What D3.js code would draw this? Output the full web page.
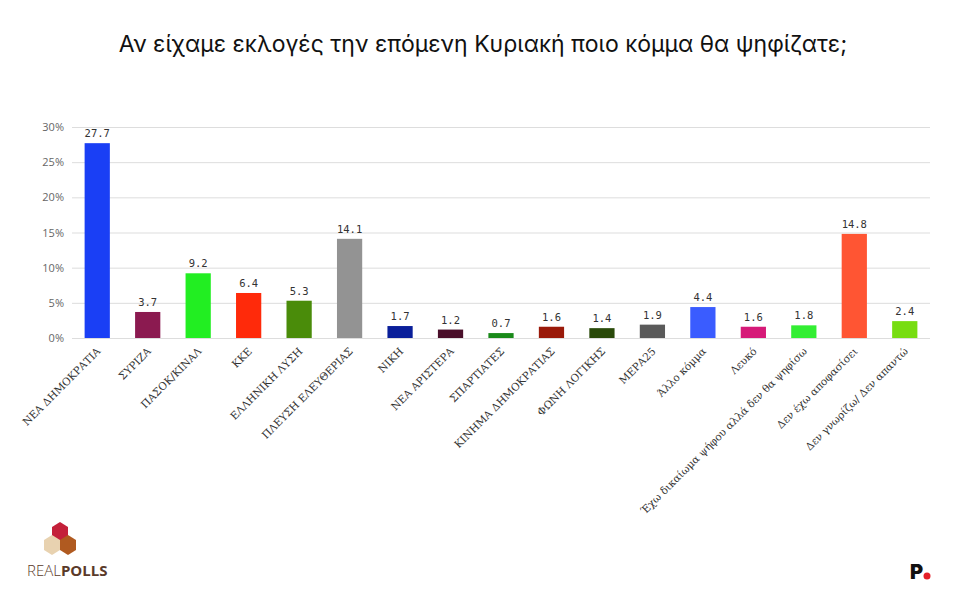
<!DOCTYPE html>
<html><head><meta charset="utf-8">
<script src="https://cdn.jsdelivr.net/npm/d3@7"></script>
<style>body{margin:0;background:#fff}</style></head>
<body><svg id="c" width="966" height="600"></svg>
<script>
const categories=["ΝΕΑ ΔΗΜΟΚΡΑΤΙΑ","ΣΥΡΙΖΑ","ΠΑΣΟΚ/ΚΙΝΑΛ","ΚΚΕ","ΕΛΛΗΝΙΚΗ ΛΥΣΗ","ΠΛΕΥΣΗ ΕΛΕΥΘΕΡΙΑΣ","ΝΙΚΗ","ΝΕΑ ΑΡΙΣΤΕΡΑ","ΣΠΑΡΤΙΑΤΕΣ","ΚΙΝΗΜΑ ΔΗΜΟΚΡΑΤΙΑΣ","ΦΩΝΗ ΛΟΓΙΚΗΣ","ΜΕΡΑ25","Άλλο κόμμα","Λευκό","Έχω δικαίωμα ψήφου αλλά δεν θα ψηφίσω","Δεν έχω αποφασίσει","Δεν γνωρίζω/ Δεν απαντώ"];
const values=[27.7,3.7,9.2,6.4,5.3,14.1,1.7,1.2,0.7,1.6,1.4,1.9,4.4,1.6,1.8,14.8,2.4];
const colors=["#1a3ff5","#8b1a50","#22ee22","#ff2a0a","#4a8c0a","#939393","#0a1f9a","#4a0f2a","#1a8a1a","#9a1a0a","#2a4a0a","#5a5a5a","#3a5cff","#d61a78","#33ee33","#ff5533","#77dd11"];
const yTicks=[0,5,10,15,20,25,30];
const title="Αν είχαμε εκλογές την επόμενη Κυριακή ποιο κόμμα θα ψηφίζατε;";

const svg=d3.select("#c");
const L=72,R=930,T=127,B=338;
const x=d3.scaleBand().domain(categories).range([L,R]).paddingInner(0.5).paddingOuter(0.25);
const y=d3.scaleLinear().domain([0,30]).range([B,T]);
svg.append("text").attr("x",483).attr("y",52).attr("text-anchor","middle")
 .attr("font-family","Inter, 'Noto Sans', sans-serif").attr("font-size",23).attr("fill","#111").text(title);
const ya=svg.append("g").attr("transform",`translate(${L},0)`)
 .call(d3.axisLeft(y).tickValues(yTicks).tickSize(-(R-L)).tickFormat(d=>d+"%"));
ya.select(".domain").remove();
ya.selectAll(".tick line").attr("stroke","#ddd");
ya.selectAll(".tick text").attr("x",-8).attr("fill","#666").attr("font-size",11).attr("font-family","'Open Sans',sans-serif");
svg.selectAll("rect.b").data(values).join("rect").attr("class","b")
 .attr("x",(d,i)=>x(categories[i])).attr("width",x.bandwidth())
 .attr("y",d=>y(d)).attr("height",d=>B-y(d)).attr("fill",(d,i)=>colors[i]);
svg.selectAll("text.v").data(values).join("text").attr("class","v")
 .attr("x",(d,i)=>x(categories[i])+x.bandwidth()/2).attr("y",d=>y(d)-6)
 .attr("text-anchor","middle").attr("font-size",10.5).attr("fill","#333")
 .attr("font-family","'DejaVu Sans Mono', monospace").text(d=>d.toFixed(1));
svg.selectAll("text.xl").data(categories).join("text").attr("class","xl")
 .attr("transform",d=>`translate(${x(d)+x.bandwidth()/2+4},${B+14}) rotate(-45)`)
 .attr("text-anchor","end").attr("font-size",10.5).attr("fill","#333")
 .attr("font-family","'DejaVu Serif', serif").text(d=>d);
// logos
const g=svg.append("g");
g.append("polygon").attr("points","52,527 60,522 68,527 68,538 60,543 52,538").attr("fill","#c4203a");
g.append("polygon").attr("points","44,540 52,535 60,540 60,550 52,555 44,550").attr("fill","#e8d2b0");
g.append("polygon").attr("points","60,540 68,535 76,540 76,550 68,555 60,550").attr("fill","#b05a20");
g.append("text").attr("x",27).attr("y",576).attr("font-family","'Open Sans',sans-serif").attr("font-size",15)
 .attr("fill","#5a3a2a").html('<tspan font-weight="300">REAL</tspan><tspan font-weight="700">POLLS</tspan>');
svg.append("text").attr("x",910).attr("y",579).attr("font-family","Inter,sans-serif").attr("font-weight",900).attr("font-size",20).attr("fill","#111").text("P");
svg.append("circle").attr("cx",927).attr("cy",576).attr("r",3.5).attr("fill","#e3202a");
</script></body></html>
